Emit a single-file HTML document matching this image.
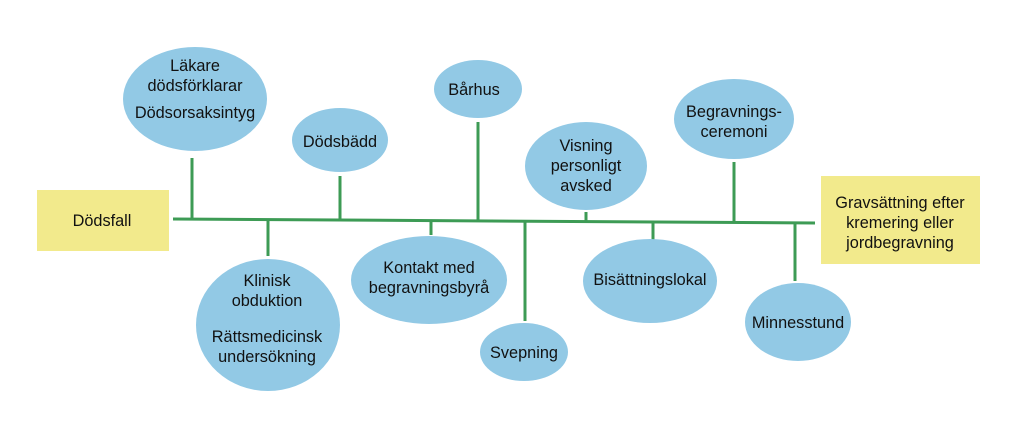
<!DOCTYPE html>
<html><head><meta charset="utf-8"><style>
body{margin:0;background:#fff}
svg text{font-family:"Liberation Sans",sans-serif;font-size:16.3px;fill:#111;text-anchor:middle}
</style></head><body>
<svg width="1024" height="436" viewBox="0 0 1024 436" xmlns="http://www.w3.org/2000/svg">
<rect width="1024" height="436" fill="#fff"/>
<g stroke="#3d9b55" stroke-width="3" fill="none">
<line x1="173" y1="219" x2="815" y2="223"/>
<line x1="192" y1="158" x2="192" y2="220"/>
<line x1="340" y1="176" x2="340" y2="220"/>
<line x1="478" y1="122" x2="478" y2="221"/>
<line x1="268" y1="221" x2="268" y2="256"/>
<line x1="431" y1="221" x2="431" y2="235"/>
<line x1="525" y1="222" x2="525" y2="321"/>
<line x1="586" y1="212" x2="586" y2="222"/>
<line x1="653" y1="222" x2="653" y2="240"/>
<line x1="734" y1="162" x2="734" y2="222"/>
<line x1="795" y1="223" x2="795" y2="281"/>
</g>
<rect x="37" y="190" width="132" height="61" fill="#f2ea8c"/>
<text x="102" y="226">Dödsfall</text>
<rect x="821" y="176" width="159" height="88" fill="#f2ea8c"/>
<text x="900" y="208">Gravsättning efter</text>
<text x="900" y="228">kremering eller</text>
<text x="900" y="248">jordbegravning</text>
<g fill="#92c9e5">
<ellipse cx="195" cy="99" rx="72" ry="52"/>
<ellipse cx="340" cy="140" rx="48" ry="32"/>
<ellipse cx="478" cy="89" rx="44" ry="29"/>
<ellipse cx="429" cy="280" rx="78" ry="44"/>
<ellipse cx="268" cy="325" rx="72" ry="66"/>
<ellipse cx="524" cy="352" rx="44" ry="29"/>
<ellipse cx="586" cy="166" rx="61" ry="44"/>
<ellipse cx="734" cy="119" rx="60" ry="40"/>
<ellipse cx="650" cy="281" rx="67" ry="42"/>
<ellipse cx="798" cy="322" rx="53" ry="39"/>
</g>
<text x="195" y="71">Läkare</text>
<text x="195" y="91">dödsförklarar</text>
<text x="195" y="118">Dödsorsaksintyg</text>
<text x="340" y="147">Dödsbädd</text>
<text x="474" y="95">Bårhus</text>
<text x="429" y="273">Kontakt med</text>
<text x="429" y="293">begravningsbyrå</text>
<text x="267" y="286">Klinisk</text>
<text x="267" y="306">obduktion</text>
<text x="267" y="342">Rättsmedicinsk</text>
<text x="267" y="362">undersökning</text>
<text x="524" y="358">Svepning</text>
<text x="586" y="151">Visning</text>
<text x="586" y="171">personligt</text>
<text x="586" y="191">avsked</text>
<text x="734" y="117">Begravnings-</text>
<text x="734" y="137">ceremoni</text>
<text x="650" y="285">Bisättningslokal</text>
<text x="798" y="328">Minnesstund</text>
</svg>
</body></html>
